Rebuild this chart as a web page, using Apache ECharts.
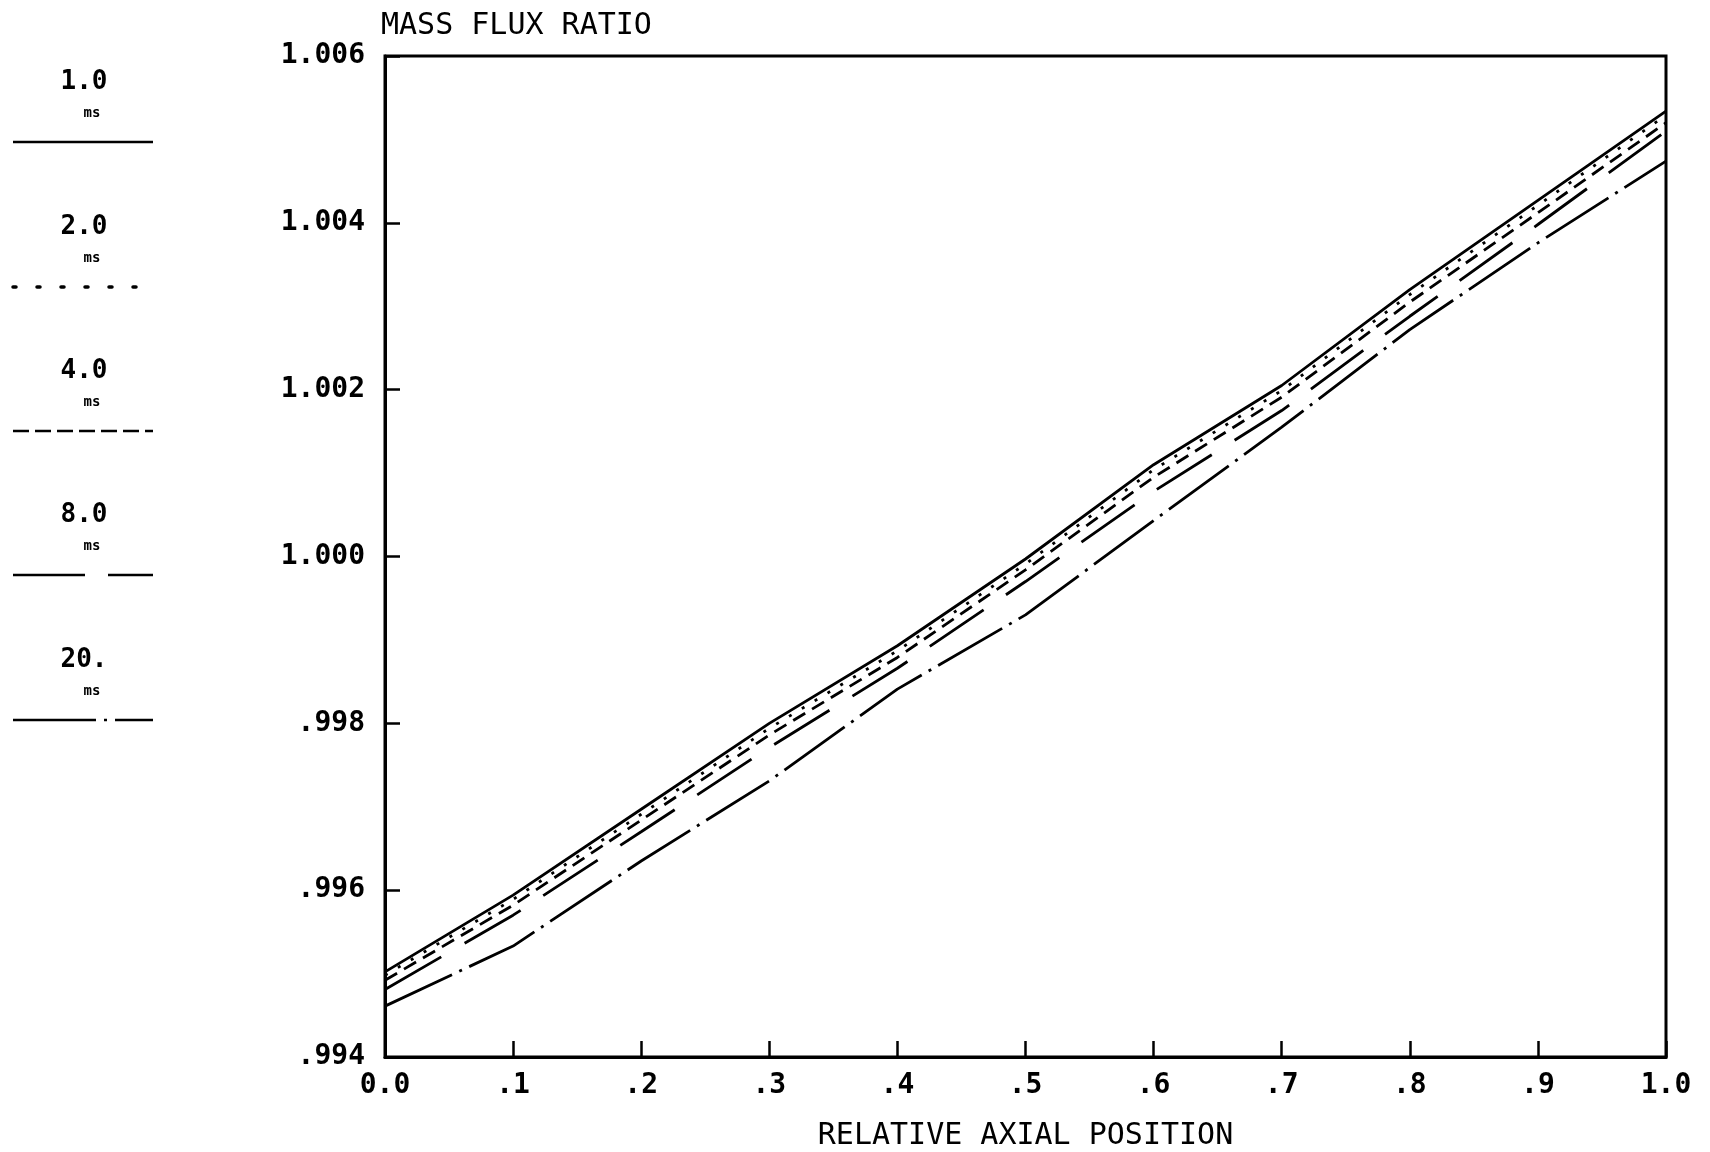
<!DOCTYPE html>
<html>
<head>
<meta charset="utf-8">
<title>Mass flux ratio</title>
<script src="https://cdn.jsdelivr.net/npm/echarts@6/dist/echarts.min.js"></script>
<style>
  html, body { margin: 0; padding: 0; background: #fff; }
  #chart { width: 1710px; height: 1152px; }
</style>
</head>
<body>
<div id="chart"></div>
<script>
// relative axial position
var xPos = [0, 0.1, 0.2, 0.3, 0.4, 0.5, 0.6, 0.7, 0.8, 0.9, 1.0];
var xTickLabels = ['0.0', '.1', '.2', '.3', '.4', '.5', '.6', '.7', '.8', '.9', '1.0'];
var yTickLabels = ['.994', '.996', '.998', '1.000', '1.002', '1.004', '1.006'];

// mass flux ratio per time step
var ms1 = [0.99502, 0.99594, 0.99697, 0.99800, 0.99893, 0.99997, 1.00110, 1.00205, 1.00320, 1.00427, 1.00534];
var ms2 = [0.99498, 0.99589, 0.99691, 0.99794, 0.99887, 0.99991, 1.00104, 1.00199, 1.00314, 1.00421, 1.00529];
var ms4 = [0.99492, 0.99582, 0.99684, 0.99786, 0.99879, 0.99984, 1.00095, 1.00191, 1.00305, 1.00412, 1.00520];
var ms8 = [0.99481, 0.99570, 0.99670, 0.99771, 0.99866, 0.99970, 1.00078, 1.00175, 1.00288, 1.00398, 1.00510];
var ms20 = [0.99461, 0.99533, 0.99635, 0.99731, 0.99841, 0.99930, 1.00043, 1.00155, 1.00272, 1.00376, 1.00474];

var legendLabels = ['1.0', '2.0', '4.0', '8.0', '20.'];

var FONT = "'DejaVu Sans Mono', 'Liberation Mono', monospace";

function pairs (ys) {
    var res = [];
    for (var i = 0; i < xPos.length; i++) {
        res.push([xPos[i], ys[i]]);
    }
    return res;
}

var seriesDefs = [
    { name: legendLabels[0], data: ms1, dash: 'solid' },
    { name: legendLabels[1], data: ms2, dash: [3, 12] },
    { name: legendLabels[2], data: ms4, dash: [14, 8] },
    { name: legendLabels[3], data: ms8, dash: [65, 27] },
    { name: legendLabels[4], data: ms20, dash: [74, 8, 3, 8] }
];

// left-hand key, drawn by hand like the plotter did
var keyTop = [82, 227, 371, 515, 660];
var keyDash = [null, [3, 21], [16, 6], [72, 23], [83, 8, 3, 8]];
var keyGraphics = [];
for (var k = 0; k < legendLabels.length; k++) {
    var y0 = keyTop[k];
    keyGraphics.push({
        type: 'text', x: 84, y: y0,
        style: { text: legendLabels[k], font: 'bold 26px ' + FONT, fill: '#000', align: 'center', verticalAlign: 'middle' }
    });
    keyGraphics.push({
        type: 'text', x: 92, y: y0 + 31,
        style: { text: 'ms', font: 'bold 14px ' + FONT, fill: '#000', align: 'center', verticalAlign: 'middle' }
    });
    keyGraphics.push({
        type: 'line',
        shape: { x1: 13, y1: y0 + 60, x2: 153, y2: y0 + 60 },
        style: { stroke: '#000', lineWidth: k == 1 ? 3.5 : 2.5, lineDash: keyDash[k], lineCap: k == 1 ? 'round' : 'butt' }
    });
}

var chart = echarts.init(document.getElementById('chart'));
var option = {
    animation: false,
    backgroundColor: '#fff',
    title: {
        text: 'MASS FLUX RATIO',
        left: 376,
        top: 6,
        textStyle: { fontFamily: FONT, fontSize: 30, fontWeight: 'normal', color: '#000' }
    },
    grid: {
        left: 385, top: 56, width: 1281, height: 1001,
        containLabel: false,
        outerBoundsMode: 'none',
        show: true, borderColor: '#000', borderWidth: 3
    },
    xAxis: {
        type: 'value',
        min: 0, max: 1, interval: 0.1,
        name: 'RELATIVE AXIAL POSITION',
        nameLocation: 'middle',
        nameGap: 64,
        nameTextStyle: { fontFamily: FONT, fontSize: 30, color: '#000' },
        axisLine: { lineStyle: { color: '#000', width: 3 } },
        axisTick: { inside: true, length: 16, lineStyle: { color: '#000', width: 2.5 } },
        splitLine: { show: false },
        axisLabel: {
            margin: 15,
            fontFamily: FONT, fontSize: 28, fontWeight: 'bold', color: '#000',
            formatter: function (v) { return xTickLabels[Math.round(v * 10)]; }
        }
    },
    yAxis: {
        type: 'value',
        min: 0.994, max: 1.006, interval: 0.002,
        axisLine: { show: true, lineStyle: { color: '#000', width: 3 } },
        axisTick: { show: true, inside: true, length: 15, lineStyle: { color: '#000', width: 2.5 } },
        splitLine: { show: false },
        axisLabel: {
            margin: 20,
            fontFamily: FONT, fontSize: 28, fontWeight: 'bold', color: '#000',
            formatter: function (v) { return yTickLabels[Math.round((v - 0.994) / 0.002)]; }
        }
    },
    graphic: keyGraphics,
    series: seriesDefs.map(function (s) {
        return {
            name: s.name,
            type: 'line',
            data: pairs(s.data),
            symbol: 'none',
            smooth: false,
            lineStyle: { color: '#000', width: 2.8, type: s.dash }
        };
    })
};
chart.setOption(option);
</script>
</body>
</html>
